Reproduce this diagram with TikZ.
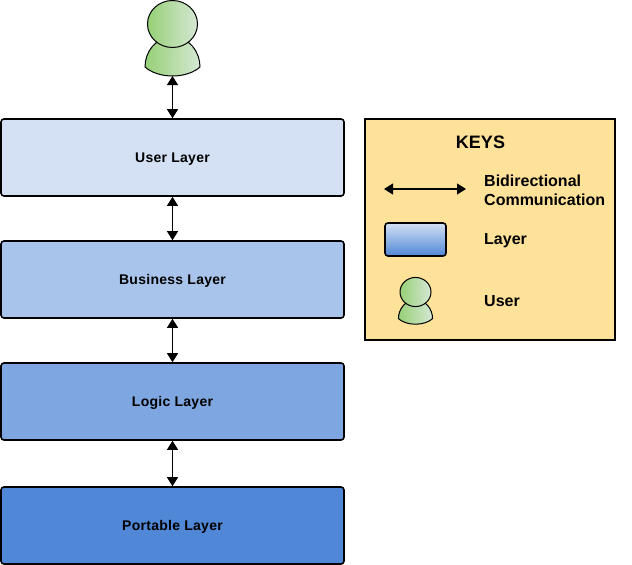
\documentclass[tikz,border=0pt]{standalone}
\usepackage{fontspec}
\setmainfont{Liberation Sans}
\usetikzlibrary{arrows.meta}
\definecolor{laya}{HTML}{D4E1F5}
\definecolor{layb}{HTML}{A9C4EB}
\definecolor{layc}{HTML}{7EA6E0}
\definecolor{layd}{HTML}{5087D6}
\definecolor{keyfill}{HTML}{FFE299}
\definecolor{gl}{HTML}{97D077}
\definecolor{gr}{HTML}{D5E8D4}
\tikzset{
  x=1pt,y=-1pt,
  layerbox/.style={draw=black,line width=1.6pt,rounded corners=3pt,minimum width=343pt,minimum height=77pt,inner sep=0pt,text=black},
  keybox/.style={draw=black,line width=1.6pt,fill=keyfill,minimum width=250pt,minimum height=221pt,inner sep=0pt},
  sample/.style={draw=black,line width=1.6pt,rounded corners=3pt,top color=laya,bottom color=layd,minimum width=61pt,minimum height=33pt,inner sep=0pt},
  keylabel/.style={anchor=west,inner sep=0pt,align=left,font=\fontsize{16}{19}\bfseries,text=black},
  keybase/.style={anchor=base west,inner sep=0pt,font=\fontsize{16}{19}\bfseries,text=black},
  layertext/.style={anchor=base,inner sep=0pt,font=\fontsize{14}{16}\bfseries\addfontfeatures{LetterSpace=2},text=black},
  biarrow/.style={draw=black,line width=1.2pt,{Triangle[length=9pt,width=11pt]}-{Triangle[length=9pt,width=11pt]}},
  personpart/.style={draw=black,line width=1pt,left color=gl,right color=gr},
}
\newcommand{\persondraw}[3]{%
  \begin{scope}[shift={(#1,#2)},xscale=#3,yscale=#3]
    \path[personpart] (0,13) .. controls (-17,13) and (-27.5,28) .. (-27.5,43)
       .. controls (-22,48) and (-12,52) .. (0,52)
       .. controls (12,52) and (22,48) .. (27.5,43)
       .. controls (27.5,28) and (17,13) .. (0,13) -- cycle;
    \path[personpart] (0,0) ellipse [x radius=25,y radius=23.5];
  \end{scope}}
\begin{document}
\begin{tikzpicture}
\useasboundingbox (0,0) rectangle (632,565);
\persondraw{172.5}{24}{1}
\coordinate (bigperson) at (172.5,76);
\node[layerbox,fill=laya] (user) at (172.5,157.5) {};
\node[layerbox,fill=layb] (business) at (172.5,279.5) {};
\node[layerbox,fill=layc] (logic) at (172.5,401.5) {};
\node[layerbox,fill=layd] (portable) at (172.5,525.5) {};
\node[layertext] (usertext) at (172.5,162) {User Layer};
\node[layertext] (businesstext) at (172.5,284) {Business Layer};
\node[layertext] (logictext) at (172.5,406) {Logic Layer};
\node[layertext] (portabletext) at (172.5,530) {Portable Layer};
\draw[biarrow] (bigperson) -- (user.north);
\draw[biarrow] (user.south) -- (business.north);
\draw[biarrow] (business.south) -- (logic.north);
\draw[biarrow] (logic.south) -- (portable.north);
\node[keybox] (keys) at (490,229.5) {};
\node[inner sep=0pt,font=\fontsize{18}{20}\bfseries] (keystitle) at (480.5,142) {KEYS};
\coordinate (arrowa) at (384,189);
\coordinate (arrowb) at (466,189);
\draw[biarrow] (arrowa) -- (arrowb);
\node[keylabel] (bidi) at (484,190) {Bidirectional\\Communication};
\node[keybase] (layerlabel) at (484,244) {Layer};
\node[sample] (samplelayer) at (415.5,239.5) {};
\persondraw{415.5}{292}{0.62}
\node[keybase] (userlabel) at (484,306) {User};
\end{tikzpicture}
\end{document}
